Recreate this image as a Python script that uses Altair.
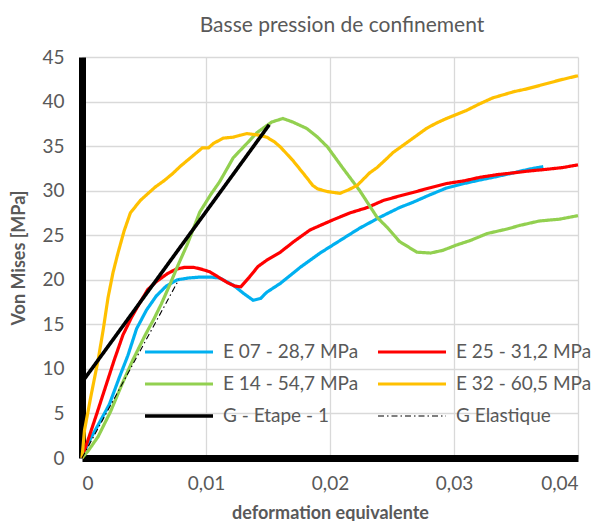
import altair as alt
import pandas as pd

# ---- data ----
names = ["E 07 - 28,7 MPa", "E 25 - 31,2 MPa", "E 14 - 54,7 MPa",
         "E 32 - 60,5 MPa", "G - Etape - 1", "G Elastique"]
colors = ["#00B0F0", "#FF0000", "#92D050", "#FFC000", "#000000", "#000000"]
dashes = [[1, 0], [1, 0], [1, 0], [1, 0], [1, 0], [6, 3, 1.5, 3]]
widths = [3.2, 3.2, 3.2, 3.2, 3.6, 1.1]

e07_x = [0, 0.0005, 0.0013, 0.0022, 0.0030, 0.0037, 0.0044, 0.0052, 0.0060, 0.0068,
         0.0077, 0.0086, 0.0095, 0.0104, 0.0111, 0.0122, 0.0130, 0.0138, 0.0144,
         0.0149, 0.0160, 0.0176, 0.0192, 0.0208, 0.0224, 0.0240, 0.0256, 0.0267,
         0.0280, 0.0294, 0.0308, 0.0321, 0.0335, 0.0348, 0.0360, 0.0372]
e07_y = [0, 1.7, 3.7, 6.0, 9.0, 11.5, 14.5, 16.6, 18.2, 19.3,
         20.0, 20.2, 20.3, 20.3, 20.2, 19.4, 18.5, 17.7, 17.9,
         18.6, 19.6, 21.4, 23.0, 24.4, 25.8, 27.0, 28.1, 28.7,
         29.5, 30.3, 30.8, 31.2, 31.6, 32.0, 32.4, 32.7]

e25_x = [0, 0.0006, 0.0012, 0.0019, 0.0026, 0.0033, 0.0040, 0.0047, 0.0053, 0.0060,
         0.0069, 0.0076, 0.0083, 0.0090, 0.0096, 0.0103, 0.0110, 0.0117, 0.0123,
         0.0128, 0.0135, 0.0142, 0.0149, 0.0160, 0.0170, 0.0184, 0.0202, 0.0216,
         0.0230, 0.0243, 0.0256, 0.0267, 0.0280, 0.0294, 0.0308, 0.0321, 0.0335,
         0.0348, 0.0360, 0.0375, 0.0388, 0.0400]
e25_y = [0, 2.5, 5.0, 8.0, 11.0, 13.8, 15.8, 17.5, 18.9, 19.8,
         20.7, 21.2, 21.4, 21.4, 21.2, 20.9, 20.3, 19.7, 19.3,
         19.2, 20.3, 21.5, 22.2, 23.1, 24.2, 25.6, 26.7, 27.5,
         28.1, 28.9, 29.4, 29.8, 30.3, 30.8, 31.1, 31.5, 31.8,
         32.0, 32.2, 32.4, 32.6, 32.9]

e14_x = [0, 0.0005, 0.0013, 0.0023, 0.0032, 0.0041, 0.0051, 0.0058, 0.0064, 0.0071,
         0.0077, 0.0085, 0.0095, 0.0104, 0.0111, 0.0122, 0.0133, 0.0141, 0.0146,
         0.0153, 0.0162, 0.0170, 0.0181, 0.0190, 0.0198, 0.0210, 0.0224, 0.0238,
         0.0246, 0.0256, 0.0270, 0.0281, 0.0291, 0.0302, 0.0313, 0.0327, 0.0343,
         0.0353, 0.0369, 0.0385, 0.0400]
e14_y = [0, 0.8, 2.4, 5.2, 8.2, 11.0, 13.8, 15.6, 17.3, 19.5,
         21.5, 24.0, 27.6, 29.6, 31.0, 33.7, 35.3, 36.5, 37.0,
         37.7, 38.1, 37.7, 37.0, 36.0, 34.9, 32.6, 30.0, 27.0,
         25.9, 24.3, 23.1, 23.0, 23.3, 23.9, 24.4, 25.2, 25.7,
         26.1, 26.6, 26.8, 27.2]

e32_x = [0, 0.0002, 0.0007, 0.0013, 0.0017, 0.0021, 0.0025, 0.0029, 0.0034, 0.0039,
         0.0047, 0.0059, 0.0066, 0.0073, 0.0079, 0.0085, 0.0091, 0.0097, 0.0102,
         0.0106, 0.0114, 0.0122, 0.0127, 0.0133, 0.0139, 0.0144, 0.0149, 0.0155,
         0.0160, 0.0170, 0.0181, 0.0186, 0.0190, 0.0198, 0.0208, 0.0215, 0.0222,
         0.0232, 0.0238, 0.0245, 0.0251, 0.0259, 0.0267, 0.0278, 0.0286, 0.0294,
         0.0310, 0.0320, 0.0331, 0.0348, 0.0358, 0.0369, 0.0385, 0.0400]
e32_y = [0, 3.1, 6.8, 11.0, 14.3, 18.0, 20.8, 23.0, 25.5, 27.5,
         28.9, 30.4, 31.1, 31.9, 32.7, 33.4, 34.1, 34.8, 34.8,
         35.3, 35.9, 36.0, 36.2, 36.4, 36.3, 36.2, 36.0, 35.5,
         34.9, 33.4, 31.5, 30.6, 30.2, 29.9, 29.7, 30.1, 30.6,
         32.0, 32.6, 33.5, 34.3, 35.1, 35.9, 37.0, 37.6, 38.1,
         39.0, 39.7, 40.4, 41.1, 41.4, 41.8, 42.4, 42.9]

g1_x = [0, 0.0151]
g1_y = [8.5, 37.4]

gel_x = [0, 0.0078]
gel_y = [0, 20.0]

x_ticks = [0, 0.01, 0.02, 0.03, 0.04]
y_ticks = [0, 5, 10, 15, 20, 25, 30, 35, 40, 45]

series = [(names[0], e07_x, e07_y), (names[1], e25_x, e25_y),
          (names[2], e14_x, e14_y), (names[3], e32_x, e32_y),
          (names[4], g1_x, g1_y), (names[5], gel_x, gel_y)]
rows = []
for name, xs, ys in series:
    for i, (xv, yv) in enumerate(zip(xs, ys)):
        rows.append({"series": name, "x": xv, "y": yv, "i": i})
df = pd.DataFrame(rows)

font = "Lato"
grey = "#595959"

leg = alt.Legend(
    title=None, orient="none", legendX=61, legendY=285, columns=2,
    direction="horizontal",
    symbolType="stroke", symbolSize=4624,
    clipHeight=20, rowPadding=12, columnPadding=17,
    labelFont=font, labelFontSize=19, labelColor=grey, labelOffset=8,
    labelLimit=400, padding=0, symbolOffset=0,
)

chart = alt.Chart(df).mark_line().encode(
    x=alt.X("x:Q", scale=alt.Scale(domain=[0, 0.04], nice=False),
            axis=alt.Axis(values=x_ticks, title="deformation equivalente",
                          labelExpr="replace(format(datum.value, '.2~f'), '.', ',')",
                          labelPadding=16, titleX=248, titleY=60,
                          titleBaseline="alphabetic")),
    y=alt.Y("y:Q", scale=alt.Scale(domain=[0, 45], nice=False),
            axis=alt.Axis(values=y_ticks, title="Von Mises [MPa]", format="d",
                          labelPadding=18, titleX=-63, titleY=200.5,
                          titleBaseline="middle")),
    color=alt.Color("series:N", scale=alt.Scale(type="ordinal", domain=names, range=colors),
                    legend=leg),
    strokeDash=alt.StrokeDash("series:N",
                              scale=alt.Scale(type="ordinal", domain=names, range=dashes),
                              legend=leg),
    strokeWidth=alt.StrokeWidth("series:N",
                                scale=alt.Scale(type="ordinal", domain=names, range=widths),
                                legend=leg),
    order="i:Q",
).properties(
    width=496, height=401,
    autosize=alt.AutoSizeParams(type="none"),
    padding={"left": 74, "top": 49, "right": 15, "bottom": 63},
    title=alt.TitleParams("Basse pression de confinement", font=font, fontSize=21,
                          fontWeight="normal", color=grey, anchor="middle",
                          baseline="alphabetic", offset=16, dy=21, dx=12),
).configure_axis(
    domainColor="#000000", domainWidth=7, domainCap="butt", ticks=False, tickSize=0,
    gridColor="#D9D9D9", gridWidth=1.3,
    labelFont=font, labelFontSize=19, labelColor=grey,
    titleFont=font, titleFontSize=18, titleFontWeight="bold", titleColor=grey,
).configure_view(strokeWidth=0)

chart.save("out.html", embed_options={"renderer": "svg", "actions": False})
